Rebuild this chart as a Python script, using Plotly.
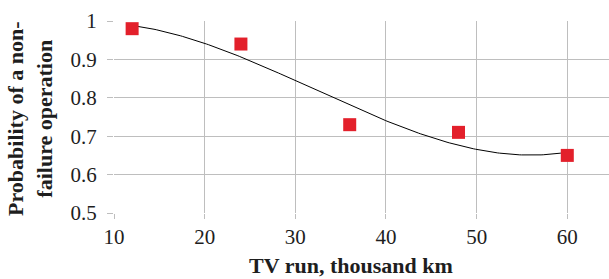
import numpy as np
import plotly.graph_objects as go

run_km = [12, 24, 36, 48, 60]
probability = [0.98, 0.94, 0.73, 0.71, 0.65]
x_ticks = [10, 20, 30, 40, 50, 60]
y_ticks = [0.5, 0.6, 0.7, 0.8, 0.9, 1.0]
y_tick_text = ["0.5", "0.6", "0.7", "0.8", "0.9", "1"]

# polynomial trendline (order 3) fitted to the data, as in the original spreadsheet chart
coef = np.polyfit(run_km, probability, 3)
xs = np.linspace(min(run_km), max(run_km), 200)
ys = np.polyval(coef, xs)

W, H = 609, 279
L, R, T, B = 114, 0, 21, 66
pw, ph = W - L - R, H - T - B

fig = go.Figure()
fig.add_trace(go.Scatter(x=xs, y=ys, mode="lines",
                         line=dict(color="black", width=1), hoverinfo="skip"))
fig.add_trace(go.Scatter(x=run_km, y=probability, mode="markers",
                         marker=dict(symbol="square", size=13, color="#E3202B",
                                     line=dict(width=0))))

grid = "#BEBEBE"
font = "Liberation Serif"
txt = "#1E1E1E"
fig.update_layout(
    template="none",
    width=W, height=H,
    margin=dict(l=L, r=R, t=T, b=B, pad=0),
    paper_bgcolor="white", plot_bgcolor="white",
    showlegend=False,
    font=dict(family=font, color=txt),
    xaxis=dict(range=[10, 64.6], tickvals=x_ticks, showgrid=True, gridcolor=grid,
               gridwidth=1, zeroline=False, showline=False, automargin=False,
               ticks="outside", ticklen=5, tickcolor=grid,
               tickfont=dict(size=21, family=font, color=txt)),
    yaxis=dict(range=[0.5, 1.0], tickvals=y_ticks, ticktext=y_tick_text, showgrid=True,
               gridcolor=grid, gridwidth=1, zeroline=False, showline=False, automargin=False,
               ticks="outside", ticklen=6, tickcolor=grid, ticklabelstandoff=6,
               tickfont=dict(size=21, family=font, color=txt)),
    annotations=[
        dict(text="<b>TV run, thousand km</b>", xref="paper", yref="paper",
             x=(351 - L) / pw, y=-(265 - T - ph) / ph, xanchor="center", yanchor="middle",
             showarrow=False, font=dict(size=22, family=font, color=txt)),
        dict(text="<b>Probability of a non-<br>failure operation</b>", xref="paper", yref="paper",
             x=(30 - L) / pw, y=1 - (119 - T) / ph, xanchor="center", yanchor="middle",
             textangle=-90, showarrow=False,
             font=dict(size=22, family=font, color=txt)),
    ],
)
fig.write_html("out.html", config={"displayModeBar": False},
               post_script="document.body.style.margin='0';")
